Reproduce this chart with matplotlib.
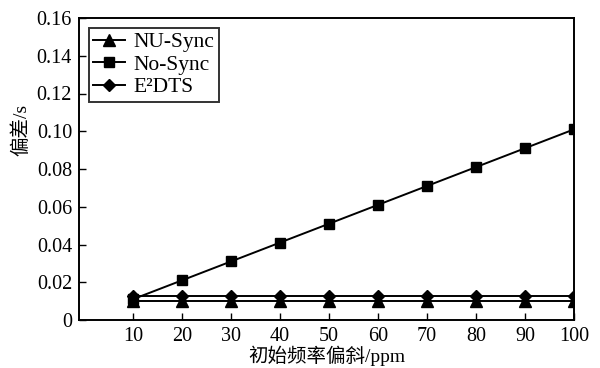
import matplotlib
matplotlib.use('Agg')
import matplotlib.pyplot as plt

plt.rcParams['font.family'] = ['Liberation Serif', 'Noto Sans CJK SC']

# 初始频率偏斜 (ppm)
skew = [10, 20, 30, 40, 50, 60, 70, 80, 90, 100]
nu_sync = [0.0100, 0.0100, 0.0100, 0.0100, 0.0100, 0.0100, 0.0100, 0.0100, 0.0100, 0.0100]
no_sync = [0.0110, 0.0210, 0.0310, 0.0410, 0.0510, 0.0610, 0.0710, 0.0810, 0.0910, 0.1010]
e2dts = [0.0125, 0.0125, 0.0125, 0.0125, 0.0125, 0.0125, 0.0125, 0.0125, 0.0125, 0.0125]

yticks = [0, 0.02, 0.04, 0.06, 0.08, 0.10, 0.12, 0.14, 0.16]
ylabels = ['0', '0.02', '0.04', '0.06', '0.08', '0.10', '0.12', '0.14', '0.16']

fig = plt.figure(figsize=(6.0, 3.68), dpi=100)
ax = fig.add_axes([79/600, 48/368, 495/600, 302/368])

ax.plot(skew, nu_sync, color='black', lw=1.4, marker='^', ms=8.5, label='NU-Sync')
ax.plot(skew, no_sync, color='black', lw=1.4, marker='s', ms=7.5, label='No-Sync')
ax.plot(skew, e2dts, color='black', lw=1.4, marker='D', ms=6.5, label='E²DTS')

ax.set_xlim(-1, 100)
ax.set_ylim(0, 0.16)
ax.set_xticks(skew)
ax.set_yticks(yticks)
ax.set_yticklabels(ylabels)
ax.tick_params(direction='in', labelsize=14.5, length=5, width=1, top=False, right=False, pad=5)
for s in ax.spines.values():
    s.set_linewidth(1.4)

ax.set_xlabel('初始频率偏斜/ppm', fontsize=14, labelpad=0)
ax.set_ylabel('偏差/s', fontsize=14)
ax.yaxis.set_label_coords(-0.098, 0.63)

leg = ax.legend(loc='upper left', fontsize=15.5, frameon=True, fancybox=False,
                edgecolor='black', borderpad=0.2, labelspacing=0.12,
                handlelength=1.5, handletextpad=0.4, borderaxespad=0.45,
                markerscale=0.95)
leg.get_frame().set_linewidth(1.4)

fig.savefig('out.png', dpi=100)
